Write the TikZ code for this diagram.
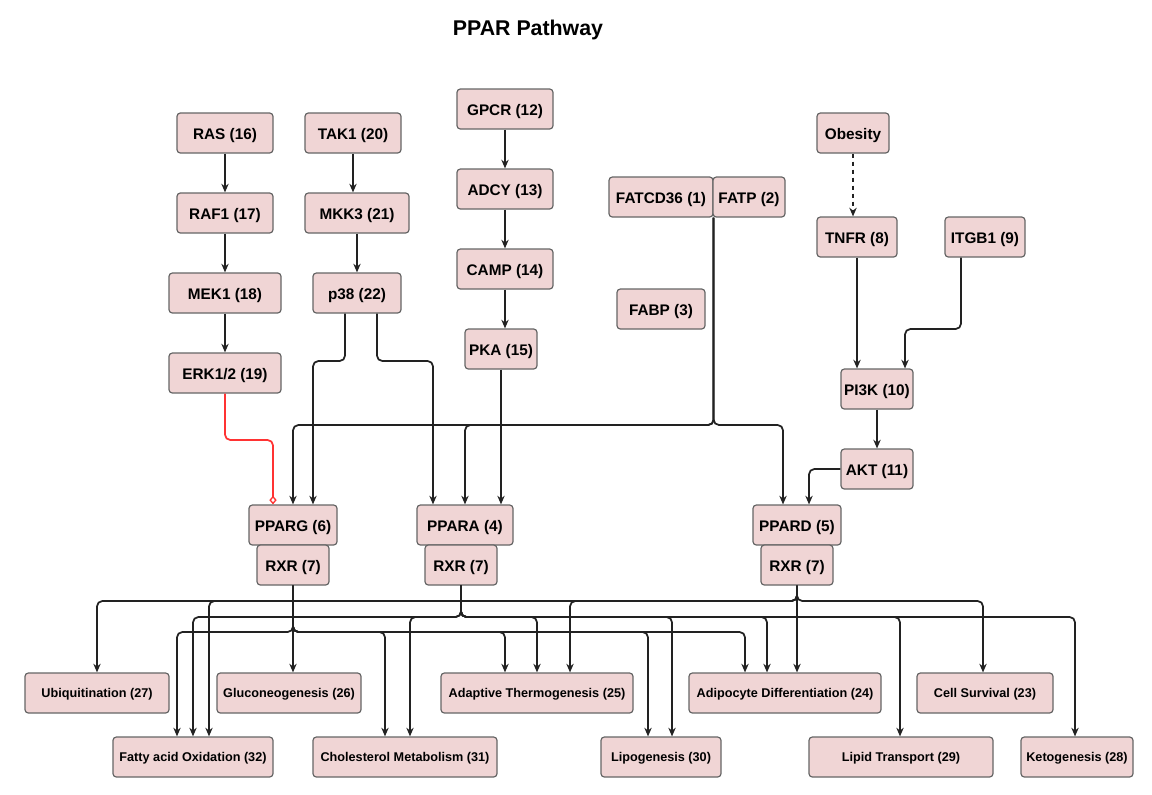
\documentclass[tikz,border=0pt]{standalone}
\usepackage{fontspec}
\setmainfont{Liberation Sans}
\usepackage{tikz}
\usetikzlibrary{arrows.meta,positioning}
\usepackage{xcolor}
\definecolor{pparfill}{HTML}{F0D5D5}
\definecolor{pparline}{HTML}{666666}
\definecolor{pparedge}{HTML}{222222}
\definecolor{pparred}{HTML}{FF3333}
\tikzset{
  genebox/.style={
    rectangle,
    rounded corners=2.5pt,
    draw=pparline,
    fill=pparfill,
    line width=0.9pt,
    minimum height=30pt,
    inner sep=0pt,
    text height=9.2pt,
    text depth=0pt,
    font=\bfseries\fontsize{11.5}{13}\selectfont
  },
  outbox/.style={genebox, text height=6.8pt, font=\bfseries\fontsize{9.5}{11}\selectfont},
  sigarrow/.style={-{Stealth[length=6.5pt,width=5.5pt]}, line width=1.3pt, draw=pparedge, rounded corners=4pt},
  riskarrow/.style={sigarrow, dashed},
  inhibarrow/.style={-{Diamond[open,length=6.5pt,width=5.5pt,line width=1pt]}, line width=1.3pt, draw=pparred, rounded corners=4pt}
}

\begin{document}
\begin{tikzpicture}[x=0.75pt, y=-0.75pt]
\useasboundingbox (0,0) rectangle (1152,794);
\node[font=\bfseries\fontsize{16}{19}\selectfont, text height=11.5pt, text depth=0pt, inner sep=0pt] (title) at (528,28) {PPAR Pathway};
% upstream cascades
\node[genebox, minimum width=72pt] (ras) at (225,133) {RAS (16)};
\node[genebox, minimum width=72pt] (raf) at (225,213) {RAF1 (17)};
\node[genebox, minimum width=84pt] (mek) at (225,293) {MEK1 (18)};
\node[genebox, minimum width=84pt] (erk) at (225,373) {ERK1/2 (19)};
\node[genebox, minimum width=72pt] (tak) at (353,133) {TAK1 (20)};
\node[genebox, minimum width=78pt] (mkk) at (357,213) {MKK3 (21)};
\node[genebox, minimum width=66pt] (p38) at (357,293) {p38 (22)};
\node[genebox, minimum width=72pt] (gpcr) at (505,109) {GPCR (12)};
\node[genebox, minimum width=72pt] (adcy) at (505,189) {ADCY (13)};
\node[genebox, minimum width=72pt] (camp) at (505,269) {CAMP (14)};
\node[genebox, minimum width=54pt] (pka) at (501,349) {PKA (15)};
\node[genebox, minimum width=78pt] (fatcd) at (661,197) {FATCD36 (1)};
\node[genebox, minimum width=54pt] (fatp) at (749,197) {FATP (2)};
\node[genebox, minimum width=66pt] (fabp) at (661,309) {FABP (3)};
\node[genebox, minimum width=54pt] (obesity) at (853,133) {Obesity};
\node[genebox, minimum width=60pt] (tnfr) at (857,237) {TNFR (8)};
\node[genebox, minimum width=60pt] (itgb) at (985,237) {ITGB1 (9)};
\node[genebox, minimum width=54pt] (pi3k) at (877,389) {PI3K (10)};
\node[genebox, minimum width=54pt] (akt) at (877,469) {AKT (11)};
% receptors
\node[genebox, minimum width=66pt] (pparg) at (293,525) {PPARG (6)};
\node[genebox, minimum width=54pt] (rxrg) at (293,565) {RXR (7)};
\node[genebox, minimum width=72pt] (ppara) at (465,525) {PPARA (4)};
\node[genebox, minimum width=54pt] (rxra) at (461,565) {RXR (7)};
\node[genebox, minimum width=66pt] (ppard) at (797,525) {PPARD (5)};
\node[genebox, minimum width=54pt] (rxrd) at (797,565) {RXR (7)};
% outcomes
\node[outbox, minimum width=108pt] (ubiq) at (97,693) {Ubiquitination (27)};
\node[outbox, minimum width=108pt] (gluco) at (289,693) {Gluconeogenesis (26)};
\node[outbox, minimum width=144pt] (thermo) at (537,693) {Adaptive Thermogenesis (25)};
\node[outbox, minimum width=144pt] (adipo) at (785,693) {Adipocyte Differentiation (24)};
\node[outbox, minimum width=102pt] (surv) at (985,693) {Cell Survival (23)};
\node[outbox, minimum width=120pt] (fao) at (193,757) {Fatty acid Oxidation (32)};
\node[outbox, minimum width=138pt] (chol) at (405,757) {Cholesterol Metabolism (31)};
\node[outbox, minimum width=90pt] (lipo) at (661,757) {Lipogenesis (30)};
\node[outbox, minimum width=138pt] (lipid) at (901,757) {Lipid Transport (29)};
\node[outbox, minimum width=84pt] (keto) at (1077,757) {Ketogenesis (28)};
% cascades
\draw[sigarrow] (ras) -- (raf);
\draw[sigarrow] (raf) -- (mek);
\draw[sigarrow] (mek) -- (erk);
\draw[sigarrow] (tak) -- (mkk.north -| tak.south);
\draw[sigarrow] (mkk) -- (p38);
\draw[sigarrow] (gpcr) -- (adcy);
\draw[sigarrow] (adcy) -- (camp);
\draw[sigarrow] (camp) -- (pka.north -| camp.south);
\draw[riskarrow] (obesity) -- (tnfr.north -| obesity.south);
\draw[sigarrow] (tnfr) -- (pi3k.north -| tnfr.south);
\draw[sigarrow] (itgb.south -| 961,0) |- (905,329) -- (pi3k.north -| 905,0);
\draw[sigarrow] (pi3k) -- (akt);
% into the receptors
\draw[inhibarrow] (erk.south) |- (273,440) -- (pparg.north -| 273,0);
\draw[sigarrow] (p38.south -| 345,0) |- (313,361) -- (pparg.north -| 313,0);
\draw[sigarrow] (p38.south -| 377,0) |- (433,361) -- (ppara.north -| 433,0);
\draw[sigarrow] (pka.south) -- (ppara.north -| pka.south);
\draw[sigarrow] (fatcd.south east) |- (293,425) -- (pparg.north);
\draw[sigarrow] (fatcd.south east) |- (465,425) -- (ppara.north);
\draw[sigarrow] (fatcd.south east) |- (783,425) -- (ppard.north -| 783,0);
\draw[sigarrow] (akt.west) -| (ppard.north -| 809,0);
% PPARG targets
\draw[sigarrow] (rxrg.south) |- (177,632) -- (fao.north -| 177,0);
\draw[sigarrow] (rxrg.south) -- (gluco.north -| rxrg.south);
\draw[sigarrow] (rxrg.south) |- (385,632) -- (chol.north -| 385,0);
\draw[sigarrow] (rxrg.south) |- (505,632) -- (thermo.north -| 505,0);
\draw[sigarrow] (rxrg.south) |- (648,632) -- (lipo.north -| 648,0);
\draw[sigarrow] (rxrg.south) |- (745,632) -- (adipo.north -| 745,0);
% PPARA targets
\draw[sigarrow] (rxra.south) |- (193,617) -- (fao.north -| 193,0);
\draw[sigarrow] (rxra.south) |- (410,617) -- (chol.north -| 410,0);
\draw[sigarrow] (rxra.south) |- (537,617) -- (thermo.north -| 537,0);
\draw[sigarrow] (rxra.south) |- (672,617) -- (lipo.north -| 672,0);
\draw[sigarrow] (rxra.south) |- (767,617) -- (adipo.north -| 767,0);
\draw[sigarrow] (rxra.south) |- (900,617) -- (lipid.north -| 900,0);
\draw[sigarrow] (rxra.south) |- (1075,617) -- (keto.north -| 1075,0);
% PPARD targets
\draw[sigarrow] (rxrd.south) |- (97,601) -- (ubiq.north);
\draw[sigarrow] (rxrd.south) |- (209,601) -- (fao.north -| 209,0);
\draw[sigarrow] (rxrd.south) |- (570,601) -- (thermo.north -| 570,0);
\draw[sigarrow] (rxrd.south) -- (adipo.north -| rxrd.south);
\draw[sigarrow] (rxrd.south) |- (983,601) -- (surv.north -| 983,0);
\end{tikzpicture}
\end{document}
